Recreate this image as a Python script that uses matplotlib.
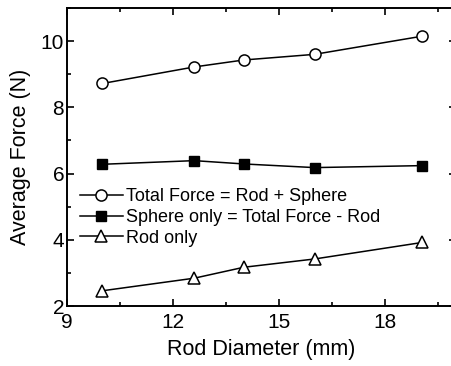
import numpy as np
import matplotlib
matplotlib.use("Agg")
import matplotlib.pyplot as plt
from matplotlib.ticker import MultipleLocator

plt.rcParams["font.family"] = ["Liberation Sans", "DejaVu Sans"]

# données
diameter = [10.0, 12.6, 14.0, 16.0, 19.05]
total_force = [8.72, 9.22, 9.43, 9.60, 10.15]
sphere_only = [6.28, 6.39, 6.29, 6.18, 6.24]
rod_only = [2.46, 2.84, 3.17, 3.42, 3.92]

labels = ["Total Force = Rod + Sphere",
          "Sphere only = Total Force - Rod",
          "Rod only"]

fig = plt.figure(figsize=(4.51, 3.66), dpi=100)
ax = fig.add_axes([67 / 451, 60 / 366, 389 / 451, 298 / 366])

ax.plot(diameter, total_force, color="black", lw=1.1, marker="o", ms=8,
        mfc="white", mec="black", mew=1.1, label=labels[0])
ax.plot(diameter, sphere_only, color="black", lw=1.1, marker="s", ms=6.5,
        mfc="black", mec="black", label=labels[1])
ax.plot(diameter, rod_only, color="black", lw=1.1, marker="^", ms=8.5,
        mfc="white", mec="black", mew=1.1, label=labels[2])

ax.set_xlim(9, 20)
ax.set_ylim(2, 11)
ax.xaxis.set_major_locator(MultipleLocator(3))
ax.xaxis.set_minor_locator(MultipleLocator(1.5))
ax.yaxis.set_major_locator(MultipleLocator(2))
ax.yaxis.set_minor_locator(MultipleLocator(1))
ax.tick_params(which="both", direction="in", top=True, right=True,
               labelsize=15, width=1.2)
ax.tick_params(axis="x", which="both", pad=5)
ax.tick_params(axis="y", which="both", pad=2)
ax.tick_params(which="major", length=5)
ax.tick_params(which="minor", length=3)
for s in ax.spines.values():
    s.set_linewidth(1.4)

ax.set_xlabel("Rod Diameter (mm)", fontsize=15.5, labelpad=5)
ax.set_ylabel("Average Force (N)", fontsize=15.5, labelpad=7)

ax.legend(loc="upper left", bbox_to_anchor=(0.0, 0.437), frameon=False,
          fontsize=13, handlelength=2.4, handletextpad=0.15,
          labelspacing=0.2, borderaxespad=0.3)

fig.savefig("out.png", dpi=100)
